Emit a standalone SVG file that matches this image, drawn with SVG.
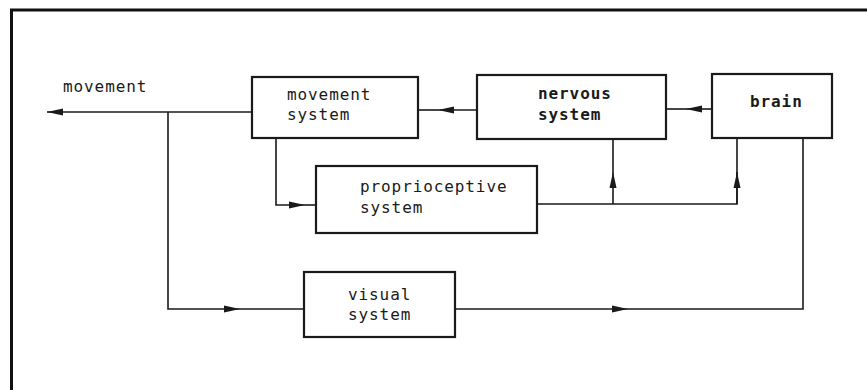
<svg xmlns="http://www.w3.org/2000/svg" width="867" height="390" viewBox="0 0 867 390">
<style>
.box{fill:#fff;stroke:#1a1a1a;stroke-width:2.2}
.ln{fill:none;stroke:#1a1a1a;stroke-width:1.6}
.t{font-family:"DejaVu Sans Mono","Liberation Mono",monospace;font-size:16px;letter-spacing:0.9px;fill:#1a1a1a}
.b{font-weight:bold}
</style>
<defs>
<marker id="ah" markerWidth="16" markerHeight="8" refX="16" refY="4" orient="auto" markerUnits="userSpaceOnUse">
<path d="M0,0.5 L16,4 L0,7.5 Z" fill="#1a1a1a"/>
</marker>
</defs>
<rect width="867" height="390" fill="#fff"/>
<path d="M11.5,390 V10 H867" fill="none" stroke="#111" stroke-width="3"/>
<text class="t" x="63" y="92">movement</text>
<g id="connectors">
<path class="ln" d="M252,112 H47" marker-end="url(#ah)"/>
<path class="ln" d="M168,112 V309 H240" marker-end="url(#ah)"/>
<path class="ln" d="M240,309 H304"/>
<path class="ln" d="M276,138 V205 H305" marker-end="url(#ah)"/>
<path class="ln" d="M305,205 H316"/>
<path class="ln" d="M477,110 H438" marker-end="url(#ah)"/>
<path class="ln" d="M438,110 H418"/>
<path class="ln" d="M712,109 H686" marker-end="url(#ah)"/>
<path class="ln" d="M686,109 H666"/>
<path class="ln" d="M537,204 H737 V138"/>
<path class="ln" d="M613,204 V172" marker-end="url(#ah)"/>
<path class="ln" d="M613,172 V139"/>
<path class="ln" d="M737,204 V172" marker-end="url(#ah)"/>
<path class="ln" d="M455,309 H628" marker-end="url(#ah)"/>
<path class="ln" d="M628,309 H803 V138"/>
</g>
<g id="movement-system">
<rect class="box" x="252" y="77" width="166" height="61"/>
<text class="t" x="287" y="100">movement</text>
<text class="t" x="287" y="120">system</text>
</g>
<g id="nervous-system">
<rect class="box" x="477" y="75" width="189" height="64"/>
<text class="t b" x="538" y="99">nervous</text>
<text class="t b" x="538" y="120">system</text>
</g>
<g id="brain">
<rect class="box" x="712" y="74" width="120" height="64"/>
<text class="t b" x="750" y="107">brain</text>
</g>
<g id="proprioceptive-system">
<rect class="box" x="316" y="166" width="221" height="67"/>
<text class="t" x="360" y="192">proprioceptive</text>
<text class="t" x="360" y="213">system</text>
</g>
<g id="visual-system">
<rect class="box" x="304" y="272" width="151" height="65"/>
<text class="t" x="348" y="300">visual</text>
<text class="t" x="348" y="320">system</text>
</g>
</svg>
